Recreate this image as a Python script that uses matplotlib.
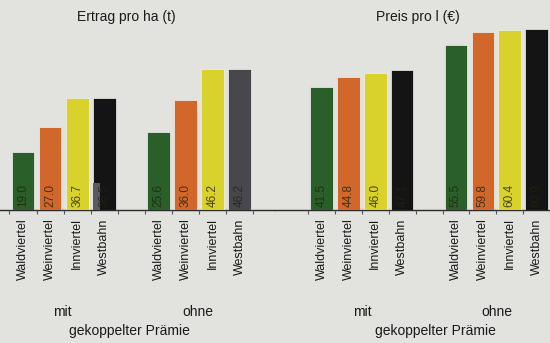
import matplotlib
matplotlib.use("Agg")
import matplotlib.pyplot as plt
import numpy as np

plt.rcParams['font.family'] = ['Liberation Sans', 'DejaVu Sans']

regions = ['Waldviertel', 'Weinviertel', 'Innviertel', 'Westbahn']
groups = ['mit', 'ohne']
group_caption = 'gekoppelter Prämie'

# Ertrag pro ha (t)
yield_mit = [19.0, 27.0, 36.7, 36.5]
yield_ohne = [25.6, 36.0, 46.2, 46.2]
yield_mit_westbahn_inset = 8.9

# Preis pro l (€)
price_mit = [41.5, 44.8, 46.0, 47.1]
price_ohne = [55.5, 59.8, 60.4, 60.9]

colors_mit = ['#2a5f2a', '#d2672c', '#d9d22c', '#141414']
colors_ohne_yield = ['#2a5f2a', '#d2672c', '#d9d22c', '#48484c']
colors_ohne_price = ['#2a5f2a', '#d2672c', '#d9d22c', '#141414']

bg = '#e2e2df'
W, H = 550, 343
fig = plt.figure(figsize=(W / 100, H / 100), dpi=100, facecolor=bg)

base_px = 210
top_px = 10
pitch = 27.1
bar_w = 0.84

pos_mit = np.arange(4)
pos_ohne = np.arange(4) + 5


def panel(x0_px, x1_px, slot0_px, scale, title, title_x, vals_mit, vals_ohne,
          cols_ohne, caption_x, mit_x, ohne_x):
    left = (x0_px - slot0_px) / pitch
    right = (x1_px - slot0_px) / pitch
    ax = fig.add_axes([x0_px / W, (H - base_px) / H, (x1_px - x0_px) / W,
                       (base_px - top_px) / H])
    ax.set_facecolor(bg)
    ax.set_xlim(left, right)
    ax.set_ylim(0, (base_px - top_px) / scale)
    ax.bar(pos_mit, vals_mit, width=bar_w, color=colors_mit,
           edgecolor='#f2f2ee', linewidth=0.5, zorder=2)
    ax.bar(pos_ohne, vals_ohne, width=bar_w, color=cols_ohne,
           edgecolor='#f2f2ee', linewidth=0.5, zorder=2)
    for x, v in zip(np.concatenate([pos_mit, pos_ohne]), vals_mit + vals_ohne):
        ax.text(x, 1.0, f'{v:.1f}', rotation=90, ha='center', va='bottom',
                fontsize=8.5, color='#22220f', alpha=0.8, zorder=3)
    for s in ['top', 'left', 'right']:
        ax.spines[s].set_visible(False)
    ax.spines['bottom'].set_color('#2a2a2a')
    ax.spines['bottom'].set_linewidth(1.0)
    ax.spines['bottom'].set_zorder(1)
    ax.set_yticks([])
    ax.set_xticks(np.concatenate([pos_mit, pos_ohne]))
    ax.set_xticklabels(regions + regions, rotation=90, fontsize=9,
                       color='#1a1a1a', va='top', ha='center')
    ax.tick_params(axis='x', length=0, pad=6)
    bounds = np.concatenate([np.arange(5) - 0.5, np.arange(5) + 4.5])
    ax.set_xticks(bounds, minor=True)
    ax.tick_params(axis='x', which='minor', length=3, width=0.8,
                   color='#555555')
    fig.text(title_x / W, 1 - 17 / H, title, ha='center', va='center',
             fontsize=10, color='#1a1a1a')
    fig.text(mit_x / W, 1 - 312 / H, groups[0], ha='center', va='center',
             fontsize=10, color='#1a1a1a')
    fig.text(ohne_x / W, 1 - 312 / H, groups[1], ha='center', va='center',
             fontsize=10, color='#1a1a1a')
    fig.text(caption_x / W, 1 - 331 / H, group_caption, ha='center',
             va='center', fontsize=10, color='#1a1a1a')
    return ax


ax1 = panel(0, 275, 23, 3.06, 'Ertrag pro ha (t)', 126, yield_mit,
            yield_ohne, colors_ohne_yield, 129, 62, 198)
# small grey bar in front of the Westbahn bar
ax1.bar(3 - bar_w / 2 + 0.14, yield_mit_westbahn_inset, width=0.26,
        color='#5a5a64', zorder=2.5)

ax2 = panel(275, 550, 322, 2.974, 'Preis pro l (€)', 418, price_mit,
            price_ohne, colors_ohne_price, 435, 362, 497)

fig.savefig('out.png', dpi=100, facecolor=bg)
